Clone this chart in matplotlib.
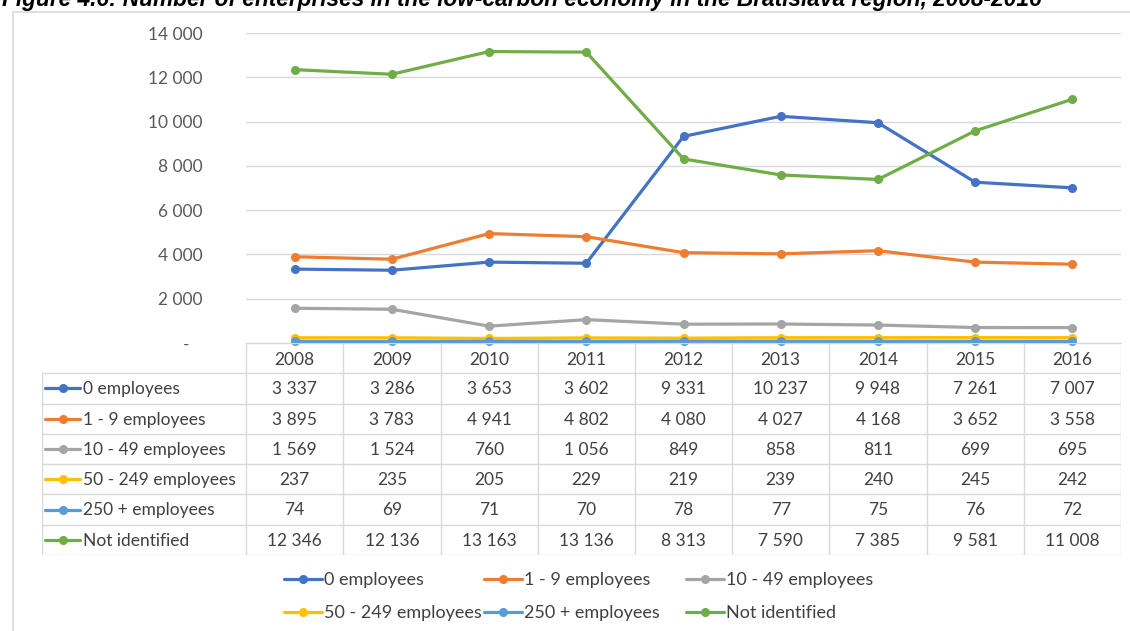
import matplotlib
matplotlib.use('Agg')
import matplotlib.pyplot as plt
from matplotlib.ticker import FuncFormatter, MultipleLocator
from matplotlib.patches import Rectangle

plt.rcParams['font.family'] = ['Lato', 'DejaVu Sans']

years = ['2008', '2009', '2010', '2011', '2012', '2013', '2014', '2015', '2016']
series_names = ['0 employees', '1 - 9 employees', '10 - 49 employees',
                '50 - 249 employees', '250 + employees', 'Not identified']
emp_0 = [3337, 3286, 3653, 3602, 9331, 10237, 9948, 7261, 7007]
emp_1_9 = [3895, 3783, 4941, 4802, 4080, 4027, 4168, 3652, 3558]
emp_10_49 = [1569, 1524, 760, 1056, 849, 858, 811, 699, 695]
emp_50_249 = [237, 235, 205, 229, 219, 239, 240, 245, 242]
emp_250 = [74, 69, 71, 70, 78, 77, 75, 76, 72]
not_identified = [12346, 12136, 13163, 13136, 8313, 7590, 7385, 9581, 11008]
all_series = [emp_0, emp_1_9, emp_10_49, emp_50_249, emp_250, not_identified]
colors = ['#4472C4', '#ED7D31', '#A5A5A5', '#FFC000', '#5B9BD5', '#70AD47']

W, H = 1130, 631
fig = plt.figure(figsize=(W / 100, H / 100), dpi=100)


def box(l, t, r, b):
    return [l / W, 1 - b / H, (r - l) / W, (b - t) / H]


def fmt(v):
    return f'{int(v):,}'.replace(',', ' ')


text_col = '#404040'
grid_col = '#D9D9D9'
fs = 12.5

# chart frame
fig.patches.append(Rectangle((13 / W, -0.05), 1.1, 1 - 12 / H + 0.05,
                             transform=fig.transFigure, fill=False,
                             edgecolor='#D9D9D9', lw=1.2))

fig.text(2 / W, 1 - 6 / H,
         'Figure 4.6: Number of enterprises in the low-carbon economy in the Bratislava region, 2008-2016',
         family='Liberation Sans', style='italic', weight='bold', fontsize=16.3,
         va='baseline', ha='left')

# line chart
ax = fig.add_axes(box(246, 33, 1121, 343))
x = list(range(len(years)))
lines = []
for name, vals, c in zip(series_names, all_series, colors):
    ln, = ax.plot(x, vals, color=c, lw=2.3, marker='o', ms=5.5, label=name,
                  solid_capstyle='round', clip_on=False, zorder=3)
    lines.append(ln)
ax.set_xlim(-0.5, len(years) - 0.5)
ax.set_ylim(0, 14000)
ax.yaxis.set_major_locator(MultipleLocator(2000))
ax.yaxis.set_major_formatter(FuncFormatter(lambda v, p: '-   ' if v == 0 else fmt(v)))
ax.grid(axis='y', color=grid_col, lw=1)
ax.set_axisbelow(True)
for s in ['top', 'right', 'left']:
    ax.spines[s].set_visible(False)
ax.spines['bottom'].set_color(grid_col)
ax.set_xticks([])
ax.tick_params(axis='y', length=0, pad=31, labelsize=fs, labelcolor='#595959')

# data table under the chart
tx = fig.add_axes(box(42, 343, 1121, 555))
left = -0.5 - 2.1
n = len(years)
tx.set_xlim(left, n - 0.5)
tx.set_ylim(7, 0)
tx.axis('off')
tx.plot([-0.5, n - 0.5], [0, 0], color=grid_col, lw=1)
for r in range(1, 8):
    tx.plot([left, n - 0.5], [r, r], color=grid_col, lw=1)
tx.plot([left, left], [1, 7], color=grid_col, lw=1)
for k in range(n + 1):
    tx.plot([k - 0.5, k - 0.5], [0, 7], color=grid_col, lw=1)
for i, yr in enumerate(years):
    tx.text(i, 0.55, yr, ha='center', va='center', fontsize=fs, color=text_col)
px = 1 / 97.2
for r, (name, vals, c) in enumerate(zip(series_names, all_series, colors), start=1):
    yc = r + 0.5
    tx.plot([left + 3 * px, left + 38 * px], [yc, yc], color=c, lw=2.3,
            solid_capstyle='round')
    tx.plot([left + 20.5 * px], [yc], 'o', color=c, ms=5.5)
    tx.text(left + 41 * px, yc + 0.03, name, ha='left', va='center',
            fontsize=fs, color=text_col)
    for i, v in enumerate(vals):
        tx.text(i, yc + 0.03, fmt(v), ha='center', va='center', fontsize=fs,
                color=text_col)

# legend: three fixed-width columns of two entries each
kw = dict(frameon=False, fontsize=13, handlelength=2.1, handletextpad=0.1,
          labelcolor=text_col, borderaxespad=0, borderpad=0, labelspacing=0.95)
for col, xpos in enumerate([284, 484, 686]):
    fig.legend([lines[col], lines[col + 3]],
               [series_names[col], series_names[col + 3]],
               loc='center left', bbox_to_anchor=(xpos / W, 1 - 596.5 / H), **kw)

plt.savefig('out.png', dpi=100)
